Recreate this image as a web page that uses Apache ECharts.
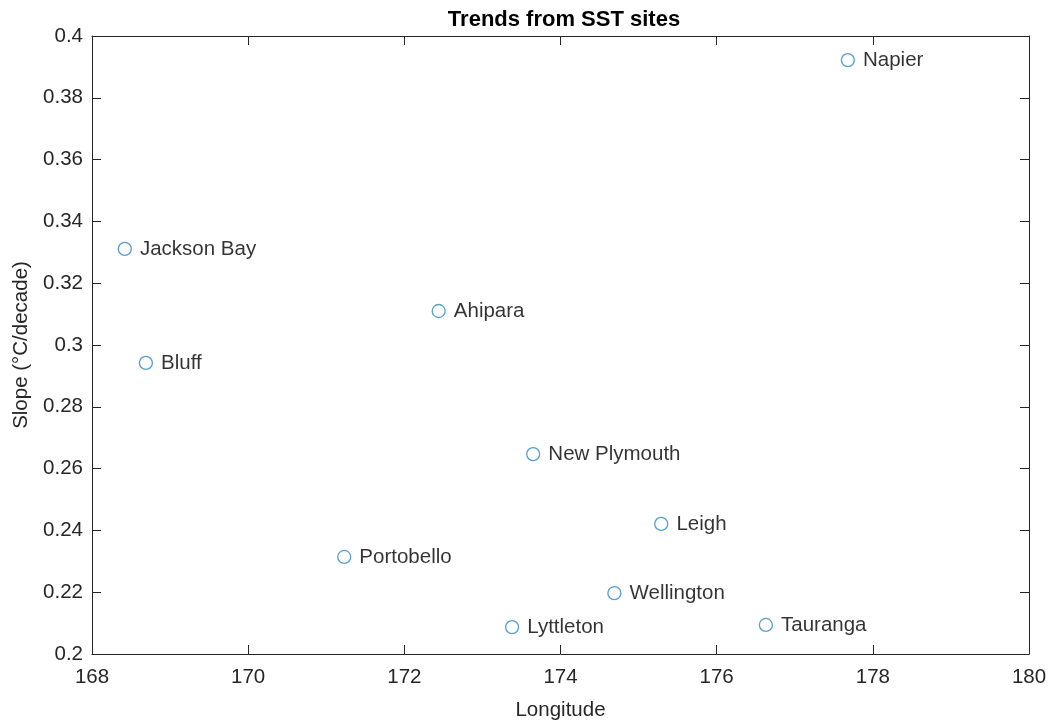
<!DOCTYPE html>
<html>
<head>
<meta charset="utf-8">
<script src="https://cdn.jsdelivr.net/npm/echarts@6/dist/echarts.min.js"></script>
<style>
  html, body { margin: 0; padding: 0; background: #fff; }
  #chart { width: 1053px; height: 727px; }
</style>
</head>
<body>
<div id="chart"></div>
<script>
// sites and their trends
const siteNames = ['Napier', 'Jackson Bay', 'Ahipara', 'Bluff', 'New Plymouth', 'Leigh', 'Portobello', 'Wellington', 'Lyttleton', 'Tauranga'];
const longitudes = [177.68, 168.42, 172.44, 168.69, 173.65, 175.29, 171.23, 174.69, 173.38, 176.63];
const slopes = [0.3922, 0.3311, 0.311, 0.2942, 0.2647, 0.2421, 0.2314, 0.2197, 0.2087, 0.2094];

const xTicks = [168, 170, 172, 174, 176, 178, 180];
const yTicks = [0.2, 0.22, 0.24, 0.26, 0.28, 0.3, 0.32, 0.34, 0.36, 0.38, 0.4];

const axisColor = '#262626';
const font = 'Liberation Sans, Arial, sans-serif';

const points = siteNames.map((n, i) => ({ name: n, value: [longitudes[i], slopes[i]] }));

const myChart = echarts.init(document.getElementById('chart'));

// 框线：上/右轴只画刻度
const boxAxis = (pos, min, max, interval) => ({
    type: 'value',
    position: pos,
    min: min,
    max: max,
    interval: interval,
    axisLine: { show: true, onZero: false, lineStyle: { color: axisColor, width: 1 } },
    axisTick: { show: true, inside: true, length: 9, lineStyle: { color: axisColor } },
    axisLabel: { show: false },
    splitLine: { show: false }
});

myChart.setOption({
    animation: false,
    title: {
        text: 'Trends from SST sites',
        left: 559,
        textAlign: 'center',
        top: 4,
        textStyle: { fontFamily: font, fontSize: 22, fontWeight: 'bold', color: '#000' }
    },
    grid: { left: 92, right: 24, top: 36, bottom: 73 },
    xAxis: [
        {
            type: 'value',
            min: 168,
            max: 180,
            interval: 2,
            name: 'Longitude',
            nameLocation: 'middle',
            nameGap: 46,
            nameTextStyle: { fontFamily: font, fontSize: 20.5, color: axisColor },
            axisLine: { show: true, onZero: false, lineStyle: { color: axisColor, width: 1 } },
            axisTick: { show: true, inside: true, length: 9, lineStyle: { color: axisColor } },
            axisLabel: {
                fontFamily: font, fontSize: 20.5, color: axisColor, margin: 13,
                formatter: v => xTicks.includes(v) ? String(v) : ''
            },
            splitLine: { show: false }
        },
        boxAxis('top', 168, 180, 2)
    ],
    yAxis: [
        {
            type: 'value',
            min: 0.2,
            max: 0.4,
            interval: 0.02,
            name: 'Slope (°C/decade)',
            nameLocation: 'middle',
            nameGap: 60,
            nameTextStyle: { fontFamily: font, fontSize: 20.5, color: axisColor },
            axisLine: { show: true, onZero: false, lineStyle: { color: axisColor, width: 1 } },
            axisTick: { show: true, inside: true, length: 9, lineStyle: { color: axisColor } },
            axisLabel: {
                fontFamily: font, fontSize: 20.5, color: axisColor, margin: 9,
                formatter: v => {
                    const r = Math.round(v * 100) / 100;
                    return yTicks.some(t => Math.abs(t - r) < 1e-9) ? String(r) : '';
                }
            },
            splitLine: { show: false }
        },
        boxAxis('right', 0.2, 0.4, 0.02)
    ],
    series: [{
        type: 'scatter',
        data: points,
        symbol: 'circle',
        symbolSize: 13,
        itemStyle: { color: '#fff', borderColor: '#2a86c0', borderWidth: 1.3 },
        label: {
            show: true,
            position: 'right',
            distance: 8,
            formatter: p => p.name,
            fontFamily: font,
            fontSize: 20.5,
            color: '#000'
        }
    }]
});
</script>
</body>
</html>
